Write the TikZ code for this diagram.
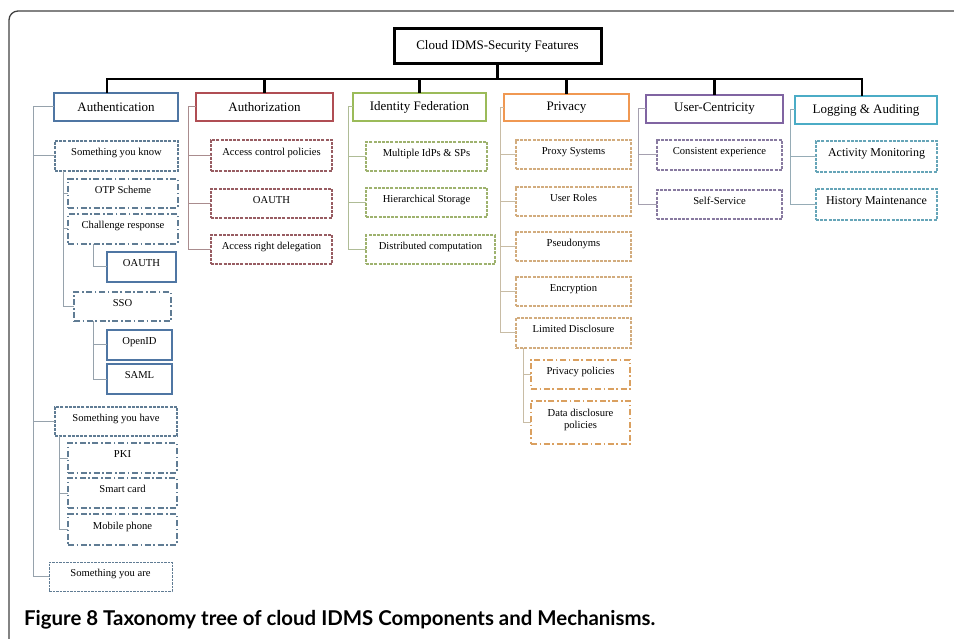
\documentclass[tikz,border=0pt]{standalone}
\usepackage{fontspec}
\setmainfont{Liberation Serif}
\newfontfamily\capfont{Lato}

% border colours of the six feature branches
\definecolor{authC}{RGB}{79,118,163}
\definecolor{authD}{RGB}{96,124,148}
\definecolor{authL}{RGB}{150,162,172}
\definecolor{redC}{RGB}{176,78,84}
\definecolor{redD}{RGB}{152,92,98}
\definecolor{redL}{RGB}{170,140,142}
\definecolor{grnC}{RGB}{155,187,89}
\definecolor{grnD}{RGB}{158,178,110}
\definecolor{grnL}{RGB}{175,188,150}
\definecolor{orgC}{RGB}{240,152,82}
\definecolor{orgD}{RGB}{210,172,126}
\definecolor{orgE}{RGB}{218,160,96}
\definecolor{orgL}{RGB}{200,188,165}
\definecolor{purC}{RGB}{128,100,162}
\definecolor{purD}{RGB}{136,122,160}
\definecolor{purL}{RGB}{165,160,175}
\definecolor{tealC}{RGB}{75,172,198}
\definecolor{tealD}{RGB}{102,165,184}
\definecolor{tealL}{RGB}{150,172,182}

% \bx[style]{name}{x1}{y1}{x2}{y2}{text}
\newcommand{\bx}[7][]{%
  \node[#1, minimum width={((#5)-(#3))*1pt}, minimum height={((#6)-(#4))*1pt}]
    (#2) at ({((#3)+(#5))/2},{((#4)+(#6))/2}) {#7};}

\begin{document}
\begin{tikzpicture}[x=1pt,y=-1pt,
  box/.style={draw, fill=white, inner sep=0pt, outer sep=0pt, align=center,
    font=\fontsize{10.6}{12.5}\selectfont},
  % leaf labels sit a little above the middle of their boxes
  raised/.style={text depth=7.5pt},
  rootbox/.style={box, line width=3pt, draw=black, text=black, font=\fontsize{13}{15}\selectfont},
  topbox/.style={box, line width=2.8pt, text=black, font=\fontsize{13}{15}\selectfont},
  dsh/.style={box, raised, line width=1.2pt, dash pattern=on 3pt off 1.2pt},
  ddot/.style={box, raised, line width=1.9pt, dash pattern=on 6pt off 2.6pt on 1.6pt off 2.6pt},
  solidb/.style={box, raised, line width=1.9pt},
  bus/.style={line width=2.8pt, black, line join=miter},
  link/.style={line width=1pt}
]
\useasboundingbox (0,0) rectangle (954,639);
\clip (0,0) rectangle (954,639);

% outer figure frame
\draw[line width=1.3pt, black!75, rounded corners=9pt] (9,660) -- (9,11) -- (980,11);

% root
\bx[rootbox]{root}{394}{29}{601}{64}{Cloud IDMS-Security Features}

% first level
\bx[topbox, draw=authC]{auth}{54}{93}{178}{121}{Authentication}
\bx[topbox, draw=redC]{authz}{196}{93}{333}{121}{Authorization}
\bx[topbox, draw=grnC]{idf}{353}{93}{486}{121}{Identity Federation}
\bx[topbox, draw=orgC]{priv}{504}{94}{629}{121}{Privacy}
\bx[topbox, draw=purC]{user}{646}{95}{783}{123}{User-Centricity}
\bx[topbox, draw=tealC]{logg}{795}{96}{937}{124}{Logging \& Auditing}

% bus from the root to the features
\coordinate (b0) at ([yshift=-15pt]root.south);
\draw[bus] (root.south) -- (b0);
\draw[bus] ([xshift=-9pt]auth.north) -- ([xshift=-9pt]auth.north |- b0)
  -- ([xshift=-4pt]logg.north |- b0) -- ([xshift=-4pt]logg.north);
\foreach \n in {authz,idf,priv,user}
  \draw[bus] (\n.north) -- (\n.north |- b0);

% Authentication
\bx[dsh, draw=authD]{syk}{55}{141}{178}{171}{Something you know}
\bx[ddot, draw=authD]{otp}{68}{179}{178}{208}{OTP Scheme}
\bx[ddot, draw=authD]{chal}{68}{214}{178}{244}{Challenge response}
\bx[solidb, draw=authC]{oa}{107}{252}{176}{282}{OAUTH}
\bx[ddot, draw=authD]{sso}{74}{292}{171}{321}{SSO}
\bx[solidb, draw=authC]{oid}{107}{330}{172}{360}{OpenID}
\bx[solidb, draw=authC]{saml}{107}{364}{172}{394}{SAML}
\bx[dsh, draw=authD]{syh}{55}{407}{177}{436}{Something you have}
\bx[ddot, draw=authD]{pki}{68}{443}{177}{473}{PKI}
\bx[ddot, draw=authD]{sc}{68}{478}{177}{508}{Smart card}
\bx[ddot, draw=authD]{mob}{68}{514}{177}{545}{Mobile phone}
\bx[dsh, draw=authD, line width=0.9pt, dash pattern=on 2.5pt off 1pt]{sya}{49}{562}{172}{591}{Something you are}

\begin{scope}[link, authL]
\draw (auth.west) -- ++(-21,0) coordinate (a0) -- (a0 |- sya.west) -- (sya.west);
\draw (a0 |- syk.west) -- (syk.west);
\draw (a0 |- syh.west) -- (syh.west);
\draw ([xshift=8pt]syk.south west) coordinate (k0) -- (k0 |- sso.west) -- (sso.west);
\draw (k0 |- otp.west) -- (otp.west);
\draw (k0 |- chal.west) -- (chal.west);
\draw ([xshift=25pt]chal.south west) |- (oa.west);
\draw ([xshift=19pt]sso.south west) coordinate (s0) |- (saml.west);
\draw (s0 |- oid.west) -- (oid.west);
\draw ([xshift=4pt]syh.south west) coordinate (h0) |- (mob.west);
\draw (h0 |- pki.west) -- (pki.west);
\draw (h0 |- sc.west) -- (sc.west);
\end{scope}

% Authorization
\bx[dsh, draw=redD]{acp}{211}{140}{332}{171}{Access control policies}
\bx[dsh, draw=redD]{oaz}{211}{189}{332}{218}{OAUTH}
\bx[dsh, draw=redD]{ard}{211}{235}{332}{264}{Access right delegation}
\begin{scope}[link, redL]
\draw (authz.west) -- ++(-8,0) coordinate (z0) |- (ard.west);
\draw (z0 |- acp.west) -- (acp.west);
\draw (z0 |- oaz.west) -- (oaz.west);
\end{scope}

% Identity Federation
\bx[dsh, draw=grnD]{mid}{366}{142}{487}{171}{Multiple IdPs \& SPs}
\bx[dsh, draw=grnD]{hst}{366}{188}{487}{217}{Hierarchical Storage}
\bx[dsh, draw=grnD]{dco}{366}{235}{495}{264}{Distributed computation}
\begin{scope}[link, grnL]
\draw (idf.west) -- ++(-5,0) coordinate (f0) |- (dco.west);
\draw (f0 |- mid.west) -- (mid.west);
\draw (f0 |- hst.west) -- (hst.west);
\end{scope}

% Privacy
\bx[dsh, draw=orgD]{pxs}{516}{140}{631}{169}{Proxy Systems}
\bx[dsh, draw=orgD]{urs}{516}{187}{631}{216}{User Roles}
\bx[dsh, draw=orgD]{psd}{516}{232}{631}{261}{Pseudonyms}
\bx[dsh, draw=orgD]{enc}{516}{277}{631}{306}{Encryption}
\bx[dsh, draw=orgD]{ldi}{516}{318}{631}{348}{Limited Disclosure}
\bx[ddot, draw=orgE]{ppo}{531}{360}{630}{389}{Privacy policies}
\bx[ddot, draw=orgE]{ddp}{531}{401}{630}{444}{Data disclosure\\policies}
\begin{scope}[link, orgL]
\draw (priv.west) -- ++(-4,0) coordinate (p0) |- (ldi.west);
\draw (p0 |- pxs.west) -- (pxs.west);
\draw (p0 |- urs.west) -- (urs.west);
\draw (p0 |- psd.west) -- (psd.west);
\draw (p0 |- enc.west) -- (enc.west);
\draw ([xshift=7pt]ldi.south west) coordinate (l0) |- (ddp.west);
\draw (l0 |- ppo.west) -- (ppo.west);
\end{scope}

% User-Centricity
\bx[dsh, draw=purD]{cex}{657}{140}{782}{170}{Consistent experience}
\bx[dsh, draw=purD]{sse}{657}{190}{782}{219}{Self-Service}
\begin{scope}[link, purL]
\draw (user.west) -- ++(-8,0) coordinate (u0) |- (sse.west);
\draw (u0 |- cex.west) -- (cex.west);
\end{scope}

% Logging & Auditing
\bx[dsh, draw=tealD, font=\fontsize{12}{14}\selectfont]{acm}{816}{141}{937}{172}{Activity Monitoring}
\bx[dsh, draw=tealD, font=\fontsize{12}{14}\selectfont]{hma}{816}{189}{937}{220}{History Maintenance}
\begin{scope}[link, tealL]
\draw (logg.west) -- ++(-5,0) coordinate (g0) |- (hma.west);
\draw (g0 |- acm.west) -- (acm.west);
\end{scope}

% caption
\node[anchor=base west, inner sep=0pt, font=\capfont\bfseries\fontsize{20.4}{24}\selectfont]
  (cap) at (24,625) {Figure 8 Taxonomy tree of cloud IDMS Components and Mechanisms.};
\end{tikzpicture}
\end{document}
